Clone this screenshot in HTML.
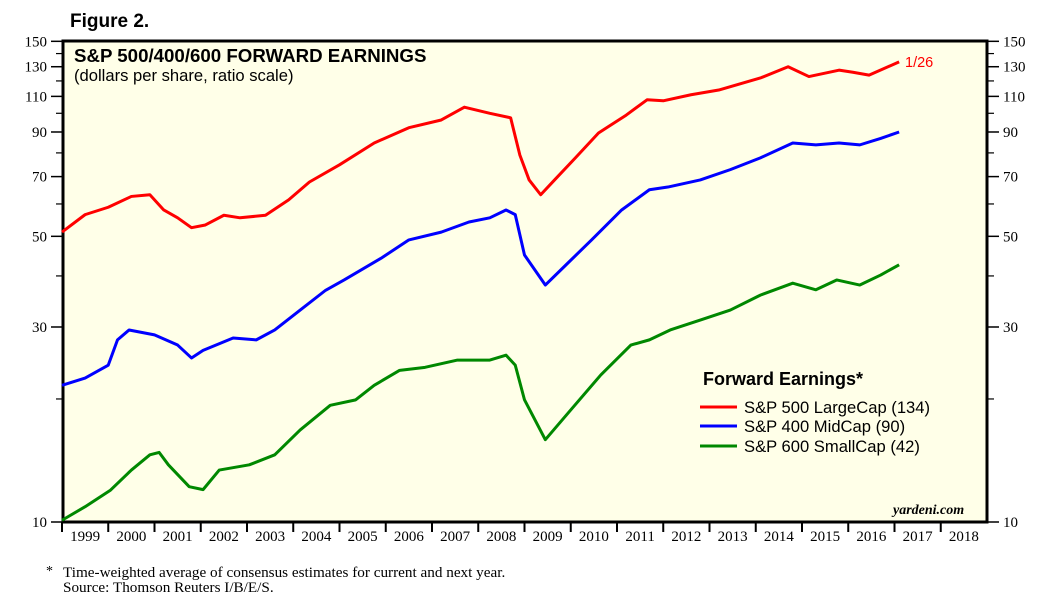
<!DOCTYPE html>
<html><head><meta charset="utf-8"><style>
body{margin:0;background:#fff;width:1064px;height:605px;overflow:hidden}
svg text{font-family:"Liberation Sans",sans-serif}
.serif{font-family:"Liberation Serif",serif!important}
</style></head><body>
<svg id="c" width="1064" height="605" xmlns="http://www.w3.org/2000/svg">
<text x="70" y="27" font-size="19" font-weight="bold">Figure 2.</text>
<rect x="63" y="41" width="924" height="481" fill="#ffffe8" stroke="#000" stroke-width="3"/>
<text x="74" y="62" font-size="18.7" font-weight="bold">S&amp;P 500/400/600 FORWARD EARNINGS</text>
<text x="74" y="81" font-size="16.6">(dollars per share, ratio scale)</text>
<g id="axes"></g>
<g id="series"></g>
<text x="905" y="67" font-size="14.5" fill="#f00">1/26</text>
<text x="703" y="385" font-size="18" font-weight="bold">Forward Earnings*</text>
<g><line x1="700" y1="407" x2="737" y2="407" stroke="#f00" stroke-width="3"/><text x="744" y="413" font-size="16.6">S&amp;P 500 LargeCap (134)</text></g>
<g><line x1="700" y1="426" x2="737" y2="426" stroke="#00f" stroke-width="3"/><text x="744" y="432" font-size="16.6">S&amp;P 400 MidCap (90)</text></g>
<g><line x1="700" y1="446" x2="737" y2="446" stroke="#080" stroke-width="3"/><text x="744" y="452" font-size="16.6">S&amp;P 600 SmallCap (42)</text></g>
<text x="893" y="514" font-size="14" font-weight="bold" font-style="italic" class="serif">yardeni.com</text>
<text x="46" y="575" font-size="14" class="serif">*</text>
<text x="63" y="577" font-size="15.2" class="serif">Time-weighted average of consensus estimates for current and next year.</text>
<text x="63" y="592" font-size="15.2" class="serif">Source: Thomson Reuters I/B/E/S.</text>
</svg>
<script>
const yearLabels=[1999,2000,2001,2002,2003,2004,2005,2006,2007,2008,2009,2010,2011,2012,2013,2014,2015,2016,2017,2018];
const yTicks=[10,30,50,70,90,110,130,150];
const yMinor=[20,40,60,80,100,120,140];
const redT=[1999.0,1999.5,2000.0,2000.5,2000.9,2001.2,2001.5,2001.8,2002.1,2002.5,2002.85,2003.4,2003.9,2004.35,2005.0,2005.75,2006.5,2007.2,2007.7,2008.25,2008.7,2008.9,2009.1,2009.35,2009.65,2010.1,2010.6,2011.2,2011.65,2012.0,2012.6,2013.2,2014.1,2014.7,2015.15,2015.8,2016.1,2016.45,2017.1];
const redV=[51.2,56.5,58.9,62.6,63.2,58.0,55.5,52.5,53.3,56.3,55.5,56.3,61.4,67.9,74.8,84.6,92.2,96.3,103.5,100,97.5,79,68.7,63.2,68.7,77.8,89.5,99,107.9,107.3,111,114,122,130,123,127.5,126,124,133.6];
const blueT=[1999.0,1999.5,2000.0,2000.2,2000.45,2001.0,2001.5,2001.8,2002.05,2002.7,2003.2,2003.6,2004.15,2004.7,2005.1,2005.9,2006.5,2007.2,2007.8,2008.25,2008.6,2008.8,2009.0,2009.45,2009.9,2010.45,2011.1,2011.7,2012.1,2012.8,2013.45,2014.1,2014.8,2015.3,2015.8,2016.25,2016.7,2017.1];
const blueV=[21.6,22.5,24.2,27.9,29.5,28.7,27.1,25.2,26.3,28.2,27.9,29.5,33.0,36.9,39.1,44.2,49,51.2,54.2,55.5,58,56.5,45,38,42.6,49,58,65,66,68.7,72.8,77.8,84.6,83.7,84.6,83.7,86.8,90];
const greenT=[1999.0,1999.5,2000.05,2000.5,2000.9,2001.1,2001.3,2001.75,2002.05,2002.4,2003.05,2003.6,2004.15,2004.8,2005.35,2005.75,2006.3,2006.85,2007.55,2008.25,2008.6,2008.8,2009.0,2009.45,2010.0,2010.65,2011.3,2011.7,2012.15,2012.8,2013.45,2014.1,2014.8,2015.3,2015.75,2016.25,2016.7,2017.1];
const greenV=[10.1,10.9,11.97,13.4,14.6,14.8,13.8,12.2,12.0,13.4,13.8,14.6,16.8,19.3,19.9,21.6,23.5,23.9,24.9,24.9,25.6,24.2,19.9,15.9,18.8,22.9,27.1,27.9,29.5,31.2,33.0,35.9,38.4,37.0,39.1,38,40.2,42.6];
const X0=62,YW=46.25,Y10=522,K=177.5;
const xs=t=>X0+(t-1999)*YW;
const ys=v=>Y10-Math.log(v/10)*K;
const NS="http://www.w3.org/2000/svg";
const ax=document.getElementById('axes'),se=document.getElementById('series');
function mk(tag,at,p){const e=document.createElementNS(NS,tag);for(const k in at)e.setAttribute(k,at[k]);p.appendChild(e);return e;}
yTicks.forEach(v=>{const y=ys(v);
 const l=mk('line',{x1:51,x2:63,y1:y,y2:y,stroke:'#000','stroke-width':1.5},ax);
 
 
 const r=mk('line',{x1:987,x2:999,y1:y,y2:y,stroke:'#000','stroke-width':1.5},ax);
 
 
 const t=mk('text',{x:47,y:y+5,'font-size':15,'text-anchor':'end',class:'serif'},ax);t.textContent=v;
 
 
 const t2=mk('text',{x:1003,y:y+5,'font-size':15,class:'serif'},ax);t2.textContent=v;
 
 
});
yMinor.forEach(v=>{const y=ys(v);
 const l=mk('line',{x1:56,x2:63,y1:y,y2:y,stroke:'#000','stroke-width':1.2},ax);
 
 
 const r=mk('line',{x1:987,x2:994,y1:y,y2:y,stroke:'#000','stroke-width':1.2},ax);
 
 
});
yearLabels.forEach(yr=>{const x=xs(yr);
 const l=mk('line',{x1:x,x2:x,y1:522,y2:532,stroke:'#000','stroke-width':2},ax);
 
 
 const t=mk('text',{x:x+YW/2,y:541,'font-size':15,'text-anchor':'middle',class:'serif'},ax);t.textContent=yr;
 
 
});
function line(T,V,c,n){const p=mk('polyline',{points:T.map((t,i)=>xs(t)+','+ys(V[i])).join(' '),fill:'none',stroke:c,'stroke-width':3,'stroke-linejoin':'round'},se);
 
 }
line(greenT,greenV,'#080','series-sp600');
line(blueT,blueV,'#00f','series-sp400');
line(redT,redV,'#f00','series-sp500');
</script>
</body></html>
